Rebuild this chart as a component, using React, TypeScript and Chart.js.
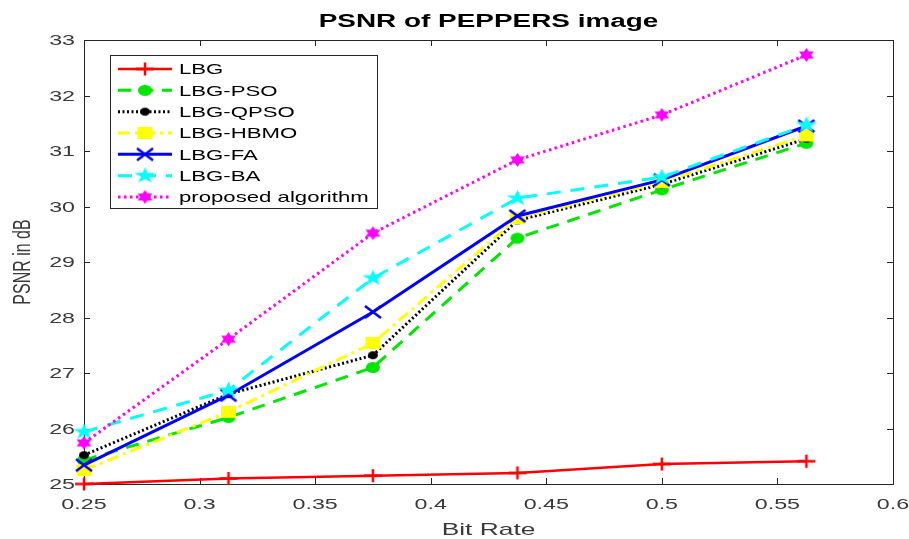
import React, { useEffect, useRef } from 'react';
import { Chart, registerables } from 'chart.js';

Chart.register(...registerables);

// ---------- data ----------
const bitRates = [0.25, 0.3125, 0.375, 0.4375, 0.5, 0.5625];
const lbg = [25.0, 25.1, 25.15, 25.2, 25.36, 25.41];
const lbgPso = [25.43, 26.2, 27.1, 29.43, 30.3, 31.14];
const lbgQpso = [25.52, 26.62, 27.32, 29.75, 30.4, 31.22];
const lbgHbmo = [25.25, 26.3, 27.54, 29.79, 30.44, 31.28];
const lbgFa = [25.34, 26.6, 28.1, 29.83, 30.48, 31.45];
const lbgBa = [25.94, 26.69, 28.71, 30.15, 30.53, 31.47];
const proposed = [25.74, 27.61, 29.52, 30.84, 31.65, 32.73];

const seriesNames = ['LBG', 'LBG-PSO', 'LBG-QPSO', 'LBG-HBMO', 'LBG-FA', 'LBG-BA', 'proposed algorithm'];
const seriesValues = [lbg, lbgPso, lbgQpso, lbgHbmo, lbgFa, lbgBa, proposed];

const xTickValues = [0.25, 0.3, 0.35, 0.4, 0.45, 0.5, 0.55, 0.6];
const xTickLabels = ['0.25', '0.3', '0.35', '0.4', '0.45', '0.5', '0.55', '0.6'];
const yTickValues = [25, 26, 27, 28, 29, 30, 31, 32, 33];
const yTickLabels = ['25', '26', '27', '28', '29', '30', '31', '32', '33'];

const titleText = 'PSNR of PEPPERS image';
const xAxisTitle = 'Bit Rate';
const yAxisTitle = 'PSNR in dB';

// ---------- styles ----------
type MarkerKind = 'plus' | 'circle' | 'dot' | 'square' | 'x' | 'pentagram' | 'hexagram';
const seriesStyles: { color: string; dash: number[]; width: number; marker: MarkerKind; mw: number; mh: number }[] = [
  { color: '#ff0000', dash: [], width: 2.5, marker: 'plus', mw: 18, mh: 13 },
  { color: '#00e600', dash: [13, 9], width: 3, marker: 'circle', mw: 14, mh: 11 },
  { color: '#000000', dash: [2, 2.5], width: 3, marker: 'dot', mw: 10, mh: 8 },
  { color: '#ffff00', dash: [12, 5, 3, 5], width: 3, marker: 'square', mw: 15, mh: 12 },
  { color: '#0000ff', dash: [], width: 3, marker: 'x', mw: 16, mh: 12 },
  { color: '#00ffff', dash: [14, 10], width: 3, marker: 'pentagram', mw: 23, mh: 17 },
  { color: '#ff00ff', dash: [2.5, 3.5], width: 3, marker: 'hexagram', mw: 17, mh: 14 },
];

const FONT = '"Liberation Sans", Arial, Helvetica, sans-serif';
const SX = 1.55; // horizontal stretch of the reference picture
const AXIS_COLOR = '#262626';
const TEXT_COLOR = '#3a3a3a';

function makeMarker(kind: MarkerKind, color: string, w: number, h: number): HTMLCanvasElement {
  const c = document.createElement('canvas');
  const W = Math.ceil(w + 6);
  const H = Math.ceil(h + 6);
  c.width = W;
  c.height = H;
  const ctx = c.getContext('2d')!;
  const cx = W / 2;
  const cy = H / 2;
  ctx.fillStyle = color;
  ctx.strokeStyle = color;
  ctx.lineCap = 'butt';
  if (kind === 'plus') {
    ctx.lineWidth = 2.5;
    ctx.beginPath();
    ctx.moveTo(cx - w / 2, cy);
    ctx.lineTo(cx + w / 2, cy);
    ctx.moveTo(cx, cy - h / 2);
    ctx.lineTo(cx, cy + h / 2);
    ctx.stroke();
  } else if (kind === 'x') {
    ctx.lineWidth = 2.5;
    ctx.beginPath();
    ctx.moveTo(cx - w / 2, cy - h / 2);
    ctx.lineTo(cx + w / 2, cy + h / 2);
    ctx.moveTo(cx + w / 2, cy - h / 2);
    ctx.lineTo(cx - w / 2, cy + h / 2);
    ctx.stroke();
  } else if (kind === 'circle' || kind === 'dot') {
    ctx.beginPath();
    ctx.ellipse(cx, cy, w / 2, h / 2, 0, 0, Math.PI * 2);
    ctx.fill();
  } else if (kind === 'square') {
    ctx.fillRect(cx - w / 2, cy - h / 2, w, h);
  } else {
    const n = kind === 'pentagram' ? 5 : 6;
    const inner = kind === 'pentagram' ? 0.382 : 0.577;
    ctx.beginPath();
    for (let k = 0; k < n * 2; k++) {
      const a = -Math.PI / 2 + (k * Math.PI) / n;
      const r = k % 2 === 0 ? 1 : inner;
      const px = cx + Math.cos(a) * r * (w / 2);
      const py = cy + Math.sin(a) * r * (h / 2);
      if (k === 0) ctx.moveTo(px, py);
      else ctx.lineTo(px, py);
    }
    ctx.closePath();
    ctx.fill();
  }
  return c;
}

function sText(
  ctx: CanvasRenderingContext2D,
  text: string,
  x: number,
  y: number,
  font: string,
  color: string,
  align: 'left' | 'center' | 'right',
  sx = SX
) {
  ctx.save();
  ctx.font = font;
  ctx.fillStyle = color;
  ctx.textBaseline = 'alphabetic';
  ctx.textAlign = 'left';
  const w = ctx.measureText(text).width * sx;
  const x0 = align === 'center' ? x - w / 2 : align === 'right' ? x - w : x;
  ctx.translate(x0, y);
  ctx.scale(sx, 1);
  ctx.fillText(text, 0, 0);
  ctx.restore();
}

export default function App() {
  const ref = useRef<HTMLCanvasElement | null>(null);

  useEffect(() => {
    const canvas = ref.current;
    if (!canvas) return;
    const markers = seriesStyles.map((s) => makeMarker(s.marker, s.color, s.mw, s.mh));

    const axesPlugin = {
      id: 'matlabAxes',
      beforeDatasetsDraw(chart: any) {
        const ctx: CanvasRenderingContext2D = chart.ctx;
        const { left, right, top, bottom } = chart.chartArea;
        const xs = chart.scales.x;
        const ys = chart.scales.y;
        ctx.save();
        ctx.strokeStyle = AXIS_COLOR;
        ctx.lineWidth = 1;
        ctx.setLineDash([]);
        ctx.strokeRect(Math.round(left) + 0.5, Math.round(top) + 0.5, Math.round(right - left), Math.round(bottom - top));
        const tl = 6;
        ctx.beginPath();
        xTickValues.forEach((v) => {
          const px = Math.round(xs.getPixelForValue(v)) + 0.5;
          ctx.moveTo(px, bottom);
          ctx.lineTo(px, bottom - tl);
          ctx.moveTo(px, top);
          ctx.lineTo(px, top + tl);
        });
        yTickValues.forEach((v) => {
          const py = Math.round(ys.getPixelForValue(v)) + 0.5;
          ctx.moveTo(left, py);
          ctx.lineTo(left + tl, py);
          ctx.moveTo(right, py);
          ctx.lineTo(right - tl, py);
        });
        ctx.stroke();
        ctx.restore();

        const tickFont = `15px ${FONT}`;
        xTickValues.forEach((v, i) => {
          sText(ctx, xTickLabels[i], xs.getPixelForValue(v), bottom + 25, tickFont, TEXT_COLOR, 'center');
        });
        yTickValues.forEach((v, i) => {
          sText(ctx, yTickLabels[i], left - 9, ys.getPixelForValue(v) + 5.4, tickFont, TEXT_COLOR, 'right');
        });

        // title
        sText(ctx, titleText, (left + right) / 2, 27, `bold 18px ${FONT}`, '#000000', 'center');
        // x axis title
        sText(ctx, xAxisTitle, (left + right) / 2, 535, `17px ${FONT}`, TEXT_COLOR, 'center');
        // y axis title (rotated, stretched in screen-horizontal direction)
        ctx.save();
        ctx.translate(23, (top + bottom) / 2);
        ctx.rotate(-Math.PI / 2);
        ctx.scale(1, SX);
        ctx.font = `16px ${FONT}`;
        ctx.fillStyle = TEXT_COLOR;
        ctx.textAlign = 'center';
        ctx.textBaseline = 'middle';
        ctx.fillText(yAxisTitle, 0, 0);
        ctx.restore();
      },
      afterDatasetsDraw(chart: any) {
        const ctx: CanvasRenderingContext2D = chart.ctx;
        const bx = 110.5;
        const by = 55.5;
        const bw = 267;
        const bh = 153;
        ctx.save();
        ctx.fillStyle = '#ffffff';
        ctx.fillRect(bx, by, bw, bh);
        ctx.strokeStyle = AXIS_COLOR;
        ctx.lineWidth = 1;
        ctx.setLineDash([]);
        ctx.strokeRect(bx, by, bw, bh);
        ctx.restore();
        seriesNames.forEach((name, i) => {
          const s = seriesStyles[i];
          const y = 69 + i * 21.33;
          ctx.save();
          ctx.strokeStyle = s.color;
          ctx.lineWidth = s.width;
          ctx.setLineDash(s.dash);
          ctx.beginPath();
          ctx.moveTo(118, y);
          ctx.lineTo(172, y);
          ctx.stroke();
          ctx.restore();
          const m = markers[i];
          ctx.drawImage(m, 145 - m.width / 2, y - m.height / 2);
          sText(ctx, name, 179, y + 5.2, `14.3px ${FONT}`, '#000000', 'left');
        });
      },
    };

    const chart = new Chart(canvas, {
      type: 'line',
      data: {
        datasets: seriesNames.map((name, i) => ({
          label: name,
          data: bitRates.map((x, j) => ({ x, y: seriesValues[i][j] })),
          borderColor: seriesStyles[i].color,
          backgroundColor: seriesStyles[i].color,
          borderWidth: seriesStyles[i].width,
          borderDash: seriesStyles[i].dash,
          pointStyle: markers[i] as any,
          pointRadius: 6,
          pointHoverRadius: 6,
          fill: false,
          tension: 0,
          clip: false as any,
          order: seriesNames.length - 1 - i,
        })),
      },
      options: {
        animation: false,
        responsive: false,
        events: [],
        layout: { padding: { left: 84, top: 40, right: 16, bottom: 55 } },
        scales: {
          x: { type: 'linear', min: 0.25, max: 0.6, display: false },
          y: { type: 'linear', min: 25, max: 33, display: false },
        },
        plugins: {
          legend: { display: false },
          title: { display: false },
          tooltip: { enabled: false },
        },
      },
      plugins: [axesPlugin],
    });

    return () => {
      chart.destroy();
    };
  }, []);

  return (
    <div style={{ position: 'absolute', left: 0, top: 0, width: 909, height: 539, background: '#ffffff' }}>
      <canvas ref={ref} width={909} height={539} style={{ display: 'block', width: 909, height: 539 }} />
    </div>
  );
}
